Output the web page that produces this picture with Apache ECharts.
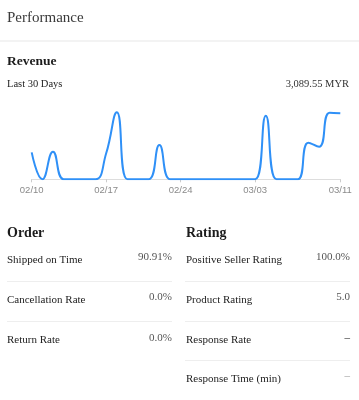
<!DOCTYPE html>
<html>
<head>
<meta charset="utf-8">
<script src="https://cdn.jsdelivr.net/npm/echarts@6/dist/echarts.min.js"></script>
<style>
html,body{margin:0;padding:0;background:#fff;}
#chart{width:359px;height:400px;}
</style>
</head>
<body>
<div id="chart"></div>
<script>
// ---- data ----
var dates = ['02/10','02/11','02/12','02/13','02/14','02/15','02/16','02/17','02/18','02/19',
  '02/20','02/21','02/22','02/23','02/24','02/25','02/26','02/27','02/28','03/01',
  '03/02','03/03','03/04','03/05','03/06','03/07','03/08','03/09','03/10','03/11'];
var revenue = [186,0,191,0,0,0,0,180,463,0,
  0,0,237,0,0,0,0,0,0,0,
  0,0,439,0,0,0,253,225,460,456];
var labelIndexes = [0,7,14,21,29];
var revenueTotal = '3,089.55 MYR';
var orderLabels = ['Shipped on Time','Cancellation Rate','Return Rate'];
var orderValues = ['90.91%','0.0%','0.0%'];
var ratingLabels = ['Positive Seller Rating','Product Rating','Response Rate','Response Time (min)'];
var ratingValues = ['100.0%','5.0','\u2013','\u2013'];

var SERIF = '"Liberation Serif", "Times New Roman", serif';
function txt(x, y, s, size, color, align, weight) {
  return {type:'text', x:x, y:y, silent:true, style:{text:s, fill:color, textAlign:align||'left',
    textVerticalAlign:'middle', font:(weight||'normal')+' '+size+'px '+SERIF}};
}
function hline(x1, x2, y, color, w) {
  return {type:'line', silent:true, shape:{x1:x1,y1:y,x2:x2,y2:y}, style:{stroke:color, lineWidth:w||1}};
}

var g = [];
g.push(txt(7, 18, 'Performance', 15, '#3a3a3a'));
g.push({type:'rect', silent:true, shape:{x:0,y:40,width:359,height:2}, style:{fill:'#f3f3f3'}});
g.push(txt(7, 62, 'Revenue', 13.5, '#1c1c1c', 'left', 'bold'));
g.push(txt(7, 84, 'Last 30 Days', 10.5, '#222'));
g.push(txt(349, 84, revenueTotal, 10.5, '#333', 'right'));
g.push(txt(7, 233, 'Order', 14, '#1c1c1c', 'left', 'bold'));
g.push(txt(186, 233, 'Rating', 14, '#1c1c1c', 'left', 'bold'));
var rowY = [260, 300, 340, 379];
var valY = [257, 297, 338, 376];
var sepY = [281, 321, 360];
orderLabels.forEach(function(l, i){
  g.push(txt(7, rowY[i], l, 11, '#222'));
  g.push(txt(172, valY[i], orderValues[i], 11, '#555', 'right'));
  if (i < orderLabels.length - 1) g.push(hline(7, 172, sepY[i]+0.5, '#eeeeee'));
});
ratingLabels.forEach(function(l, i){
  g.push(txt(186, rowY[i], l, 11, '#222'));
  var c = i === 3 ? '#999' : (i === 2 ? '#111' : '#555');
  g.push(txt(350, valY[i], ratingValues[i], 11, c, 'right'));
  if (i < ratingLabels.length - 1) g.push(hline(185, 350, sepY[i]+0.5, '#eeeeee'));
});

function showIdx(idx){ return labelIndexes.indexOf(idx) >= 0; }

var chart = echarts.init(document.getElementById('chart'), null, {renderer:'canvas'});
chart.setOption({
  animation:false,
  grid:{left:31.7, right:18.7, top:106.9, bottom:220.7, containLabel:false},
  xAxis:{type:'category', data:dates, boundaryGap:false,
    axisLine:{lineStyle:{color:'#dddddd', width:1}},
    axisTick:{show:true, length:3, interval:function(i){return showIdx(i);}, lineStyle:{color:'#cccccc'}},
    axisLabel:{interval:function(i){return showIdx(i);}, color:'#8a8a8a', fontSize:9.5,
      fontFamily:'"Liberation Sans", Arial, sans-serif', margin:6},
    splitLine:{show:false}},
  yAxis:{type:'value', min:0, max:500, show:false, splitLine:{show:false}},
  series:[{type:'line', data:revenue, smooth:true, symbol:'none', showSymbol:false,
    lineStyle:{color:'#2f90f7', width:2}}],
  graphic:g
});
</script>
</body>
</html>
